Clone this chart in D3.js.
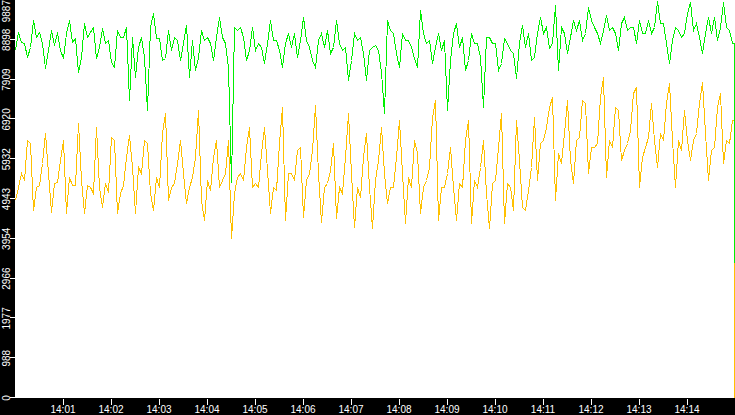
<!DOCTYPE html>
<html>
<head>
<meta charset="utf-8">
<script src="https://cdn.jsdelivr.net/npm/d3@7"></script>
<style>
  body { margin: 0; background: #fff; }
  svg { display: block; }
  .tick-label { font-family: "Liberation Sans", Arial, sans-serif; font-size: 10px; fill: #fff; }
</style>
</head>
<body>
<svg id="chart" width="735" height="415"></svg>
<script>
// samples are 3.75 s apart, the last one is the closing (partial) second
var startTime = "14:00:00";
var endTime = "14:15:00";
var sampleSeconds = 3.75;
var lastSampleSecond = 899;
var yMax = 9887;
var yTickCount = 10;
var xTickLabels = ["14:01", "14:02", "14:03", "14:04", "14:05", "14:06", "14:07",
                   "14:08", "14:09", "14:10", "14:11", "14:12", "14:13", "14:14"];

var greenValues = [
    8645, 9101, 8852, 8811, 8479, 8728, 9390, 8976, 9101, 8811, 8190, 8645, 9142, 8770, 9101, 8645, 8438, 9059, 9390, 8852,
    8935, 8107, 8479, 9307, 8976, 9101, 9225, 8438, 8728, 9183, 8811, 8893, 8355, 8231, 9142, 8976, 8976, 9225, 7403, 8976,
    7982, 8728, 8976, 8479, 7154, 9225, 9556, 8935, 8935, 8397, 8438, 9142, 8645, 8976, 8893, 8397, 8811, 9266, 7982, 8893,
    8148, 8479, 9142, 8893, 8976, 8811, 8397, 8976, 9473, 8976, 8811, 8231, 5374, 9225, 9142, 9225, 8976, 8397, 8645, 9225,
    8645, 8811, 8728, 8314, 8811, 9390, 8893, 8893, 8645, 8231, 8811, 9059, 8728, 9059, 8479, 8893, 9473, 8893, 8728, 8397,
    8231, 8893, 9059, 8728, 9142, 8562, 8728, 9390, 8811, 8645, 8728, 7900, 8397, 9059, 8893, 8976, 8562, 7900, 8645, 8728,
    8770, 8645, 8107, 7072, 9390, 9142, 9059, 8562, 8231, 9059, 8893, 8893, 8728, 8438, 8231, 9639, 9059, 8811, 8893, 8314,
    8728, 9059, 8645, 8893, 7154, 8397, 9059, 9307, 8728, 8976, 8148, 8397, 9059, 8811, 8811, 8479, 7237, 8976, 8976, 8811,
    8811, 8148, 8314, 8935, 8811, 8645, 8562, 7941, 8811, 9266, 8728, 9059, 8397, 8479, 9059, 9473, 9059, 9225, 8686, 8811,
    9760, 8148, 9225, 9059, 8562, 8976, 9390, 9142, 9390, 8893, 9059, 9721, 9390, 9225, 9059, 8811, 9142, 9514, 9142, 9225,
    9059, 8645, 9307, 9473, 9142, 9225, 9225, 8811, 9390, 9059, 9059, 9390, 9059, 9225, 9870, 9307, 9307, 8811, 8314, 8893,
    9225, 9142, 8976, 9059, 9556, 9845, 9142, 9307, 8976, 8562, 9059, 9473, 9059, 9473, 8893, 9225, 9846, 9225, 9142, 8811,
    3380
];

var amberValues = [
    4919, 5250, 5581, 5415, 6409, 6326, 4670, 5250, 5291, 5830, 6575, 5581, 4629, 5333, 5374, 5912, 6409, 4587, 5498, 5291,
    5291, 6823, 5415, 4587, 5291, 5250, 5084, 6740, 5250, 4753, 5333, 5126, 6492, 6409, 4587, 5084, 5291, 5995, 6533, 5747,
    4587, 5747, 5581, 6409, 6326, 5084, 4670, 5498, 5250, 6575, 7072, 4919, 5250, 5333, 5830, 6409, 5581, 4836, 5250, 5498,
    5995, 7154, 4919, 4422, 5415, 5167, 5995, 6409, 5250, 5415, 5581, 6409, 3983, 5084, 5498, 5581, 5415, 6244, 6740, 5250,
    5333, 5250, 6078, 6740, 5664, 4587, 5250, 5167, 6326, 7237, 4422, 5581, 5581, 5415, 6161, 6244, 4505, 5415, 5581, 6161,
    7279, 5581, 4380, 5250, 5333, 5664, 6326, 4463, 5250, 5084, 5995, 7072, 5581, 4256, 5250, 5001, 5995, 6575, 5250, 4215,
    5415, 5912, 6740, 5581, 4836, 5250, 5250, 5995, 6906, 5581, 4339, 5498, 5250, 6409, 6078, 4587, 5250, 5415, 5747, 6989,
    7403, 4422, 5250, 5250, 5581, 6244, 5250, 4422, 5333, 5250, 6409, 6906, 4339, 5415, 5250, 5747, 6409, 5084, 4215, 5333,
    5415, 6244, 7072, 4339, 5333, 5250, 4670, 6906, 5912, 4753, 4670, 5167, 5747, 6989, 5415, 6326, 6409, 6740, 7237, 7486,
    4919, 6078, 5830, 6575, 7403, 5912, 5333, 6409, 6492, 7403, 7320, 5581, 6244, 6244, 6326, 7486, 7982, 5498, 6409, 6244,
    7237, 7154, 5912, 6161, 6326, 6658, 7568, 7734, 5250, 5995, 6244, 6492, 7320, 6409, 5747, 6575, 6409, 7320, 7817, 6409,
    5250, 6409, 6161, 7154, 6409, 5912, 6409, 6575, 7320, 7858, 6575, 5415, 6161, 6244, 7237, 7568, 5830, 6409, 6326, 6906,
    0
];

var width = 735, height = 415;
var axisLeft = 15, axisBottom = 398;

var parseTime = d3.timeParse("%H:%M:%S");
var t0 = parseTime(startTime), t1 = parseTime(endTime);

var toPoints = function(values) {
    return values.map(function(v, i) {
        var sec = i < values.length - 1 ? i * sampleSeconds : lastSampleSecond;
        return { t: new Date(t0.getTime() + sec * 1000), v: v };
    });
};

var x = d3.scaleTime().domain([t0, t1]).range([axisLeft, width]);
var y = d3.scaleLinear().domain([0, yMax]).range([axisBottom, 0]);

var svg = d3.select("#chart");
svg.append("rect").attr("width", width).attr("height", height).attr("fill", "#fff");

// last two samples stepped so the closing drop is a straight vertical
var line = d3.line()
    .curve(d3.curveLinear)
    .x(function(d) { return Math.round(x(d.t)) + 0.5; })
    .y(function(d) { return Math.round(y(d.v)) + 0.5; });

var drawSeries = function(values, colour) {
    var pts = toPoints(values);
    var n = pts.length;
    pts.splice(n - 1, 0, { t: pts[n - 1].t, v: pts[n - 2].v });
    svg.append("path")
        .datum(pts)
        .attr("d", line)
        .attr("fill", "none")
        .attr("stroke", colour)
        .attr("stroke-width", 1)
        .attr("shape-rendering", "crispEdges");
};

drawSeries(amberValues, "#ffc000");
drawSeries(greenValues, "#00f000");

// black axis bands
svg.append("rect").attr("x", 0).attr("y", 0).attr("width", axisLeft).attr("height", height).attr("fill", "#000");
svg.append("rect").attr("x", 0).attr("y", axisBottom).attr("width", width).attr("height", height - axisBottom).attr("fill", "#000");

var xTicks = xTickLabels.map(function(s) { return parseTime(s + ":00"); });
var xg = svg.append("g");
xg.selectAll("line").data(xTicks).enter().append("line")
    .attr("x1", function(d) { return Math.round(x(d)) + 0.5; })
    .attr("x2", function(d) { return Math.round(x(d)) + 0.5; })
    .attr("y1", axisBottom + 1).attr("y2", axisBottom + 7)
    .attr("stroke", "#fff").attr("shape-rendering", "crispEdges");
xg.selectAll("text").data(xTicks).enter().append("text")
    .attr("class", "tick-label")
    .attr("x", function(d) { return x(d); })
    .attr("y", 413)
    .attr("text-anchor", "middle")
    .text(d3.timeFormat("%H:%M"));

var yTicks = d3.range(yTickCount + 1).map(function(i) { return i * yMax / yTickCount; });
var yg = svg.append("g");
yg.selectAll("line").data(yTicks).enter().append("line")
    .attr("x1", 10).attr("x2", axisLeft)
    .attr("y1", function(d) { return Math.round(y(d)) - 0.5; })
    .attr("y2", function(d) { return Math.round(y(d)) - 0.5; })
    .attr("stroke", "#fff").attr("shape-rendering", "crispEdges");
yg.selectAll("text").data(yTicks).enter().append("text")
    .attr("class", "tick-label")
    .attr("transform", function(d, i) {
        var ty = i === yTickCount ? 0 : y(d);
        return "translate(9.5," + ty + ") rotate(-90)";
    })
    .attr("text-anchor", function(d, i) { return i === yTickCount ? "end" : "middle"; })
    .text(function(d) { return Math.floor(d); });
</script>
</body>
</html>
